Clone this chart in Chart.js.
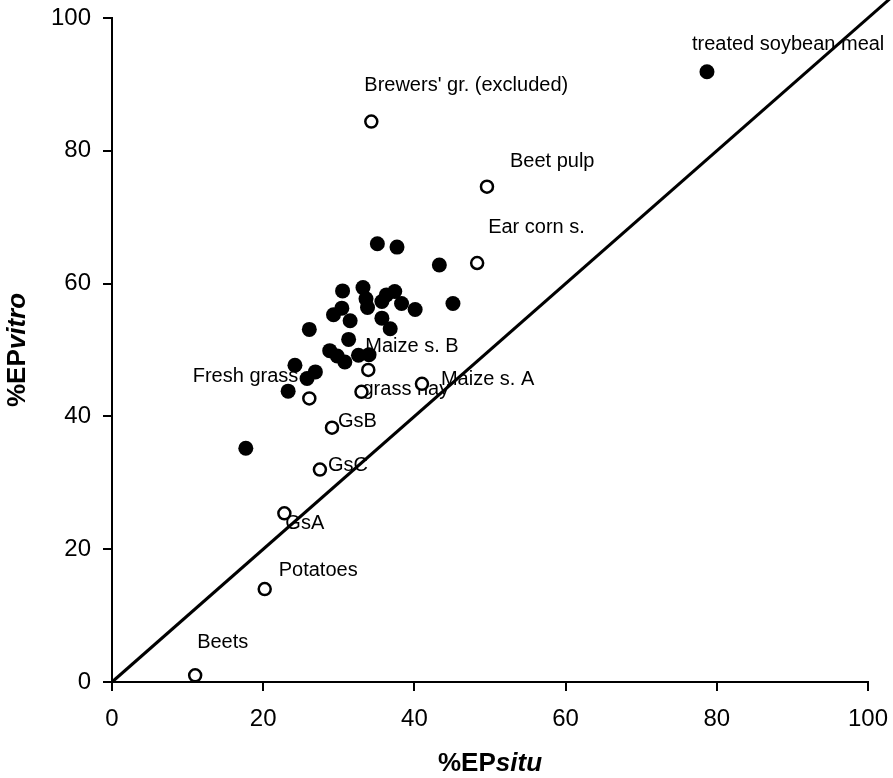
<!DOCTYPE html>
<html>
<head>
<meta charset="utf-8">
<script src="https://cdn.jsdelivr.net/npm/chart.js@4.4.1/dist/chart.umd.min.js"></script>
<style>
  html, body { margin: 0; padding: 0; background: #fff; }
  #wrap { width: 893px; height: 778px; position: relative; }
</style>
</head>
<body>
<div id="wrap"><canvas id="epChart"></canvas></div>
<script>
// filled circles (unlabelled feeds + treated soybean meal)
const filledX = [78.7, 35.1, 37.7, 43.3, 45.1, 30.5, 33.2, 33.6, 33.8, 36.3, 37.4, 38.3, 35.7,
  40.1, 30.4, 29.3, 31.5, 35.7, 36.8, 26.1, 31.3, 28.8, 29.8, 30.8, 32.6, 34.0,
  24.2, 26.9, 25.8, 23.3, 17.7];
const filledY = [91.9, 66.0, 65.5, 62.8, 57.0, 58.9, 59.4, 57.7, 56.4, 58.3, 58.8, 57.0, 57.3,
  56.1, 56.3, 55.3, 54.4, 54.8, 53.2, 53.1, 51.6, 49.9, 49.1, 48.2, 49.2, 49.3,
  47.7, 46.7, 45.7, 43.8, 35.2];

// open circles, one name each
const openNames = ["Brewers' gr. (excluded)", "Beet pulp", "Ear corn s.", "Maize s. B", "Maize s. A",
  "grass hay", "Fresh grass", "GsB", "GsC", "GsA", "Potatoes", "Beets"];
const openX = [34.3, 49.6, 48.3, 33.9, 41.0, 33.0, 26.1, 29.1, 27.5, 22.8, 20.2, 11.0];
const openY = [84.4, 74.6, 63.1, 47.0, 44.9, 43.7, 42.7, 38.3, 32.0, 25.4, 14.0, 1.0];

// 1:1 line
const lineX = [0, 103.5];
const lineY = [0, 103.5];

const xTicks = [0, 20, 40, 60, 80, 100];
const yTicks = [0, 20, 40, 60, 80, 100];

// label placement, pixel offsets from the point (text left / middle)
const labelOffsets = {
  "Brewers' gr. (excluded)": [-7, -36, "left"],
  "Beet pulp": [23, -25, "left"],
  "Ear corn s.": [11, -36, "left"],
  "Maize s. B": [-3, -23, "left"],
  "Maize s. A": [19, -4, "left"],
  "grass hay": [1, -2, "left"],
  "Fresh grass": [-11, -22, "right"],
  "GsB": [6, -6, "left"],
  "GsC": [8, -4, "left"],
  "GsA": [1, 10, "left"],
  "Potatoes": [14, -19, "left"],
  "Beets": [2, -33, "left"]
};
const soyLabel = { text: "treated soybean meal", idx: 0, dx: -15, dy: -27 };

const FONT = "'Liberation Sans', Arial, sans-serif";

const pointLabels = {
  id: "pointLabels",
  beforeDatasetsDraw(chart) {
    const { ctx, scales: { x, y } } = chart;
    ctx.save();
    ctx.fillStyle = "#000";
    ctx.font = "20px " + FONT;
    ctx.textBaseline = "middle";
    openNames.forEach((name, i) => {
      const o = labelOffsets[name];
      if (!o) return;
      ctx.textAlign = o[2];
      ctx.fillText(name, x.getPixelForValue(openX[i]) + o[0], y.getPixelForValue(openY[i]) + o[1]);
    });
    ctx.textAlign = "left";
    ctx.fillText(soyLabel.text,
      x.getPixelForValue(filledX[soyLabel.idx]) + soyLabel.dx,
      y.getPixelForValue(filledY[soyLabel.idx]) + soyLabel.dy);
    ctx.restore();
  }
};

// axis titles with the italic part
function drawMixed(ctx, parts) {
  const widths = parts.map(p => { ctx.font = p.font; return ctx.measureText(p.t).width; });
  const total = widths.reduce((a, b) => a + b, 0);
  let cx = -total / 2;
  parts.forEach((p, i) => {
    ctx.font = p.font;
    ctx.fillText(p.t, cx, 0);
    cx += widths[i];
  });
}

const axisTitles = {
  id: "axisTitles",
  afterDraw(chart) {
    const { ctx, chartArea } = chart;
    ctx.save();
    ctx.fillStyle = "#000";
    ctx.textAlign = "left";
    ctx.textBaseline = "middle";
    const bold = "bold 26px " + FONT;
    const boldIt = "italic bold 26px " + FONT;

    ctx.save();
    ctx.translate((chartArea.left + chartArea.right) / 2, 764);
    drawMixed(ctx, [{ t: "%EP", font: bold }, { t: "situ", font: boldIt }]);
    ctx.restore();

    ctx.save();
    ctx.translate(18, (chartArea.top + chartArea.bottom) / 2);
    ctx.rotate(-Math.PI / 2);
    drawMixed(ctx, [{ t: "%EP", font: bold }, { t: "vitro", font: boldIt }]);
    ctx.restore();

    ctx.restore();
  }
};

function axisOpts(ticks, isX) {
  return {
    type: "linear",
    min: 0,
    max: 100,
    afterBuildTicks: s => { s.ticks = ticks.map(v => ({ value: v })); },
    afterFit: s => {
      if (isX) s.height = 96;
      else s.width = 112;
      // let layout.padding alone decide the plot box
      s.paddingTop = 0;
      s.paddingBottom = 0;
      s.paddingLeft = 0;
      s.paddingRight = 0;
    },
    grid: {
      display: true,
      drawOnChartArea: false,
      drawTicks: true,
      tickLength: 9,
      color: "#000",
      lineWidth: 2
    },
    border: { display: true, color: "#000", width: 2 },
    ticks: {
      color: "#000",
      font: { family: FONT, size: 24 },
      padding: isX ? 14 : 12,
      maxRotation: 0,
      autoSkip: false
    },
    title: { display: false }
  };
}

new Chart(document.getElementById("epChart").getContext("2d"), {
  type: "scatter",
  data: {
    datasets: [
      {
        label: "filled",
        data: filledX.map((v, i) => ({ x: v, y: filledY[i] })),
        pointRadius: 7.5,
        pointBackgroundColor: "#000",
        pointBorderColor: "#000",
        pointBorderWidth: 0
      },
      {
        label: "open",
        data: openX.map((v, i) => ({ x: v, y: openY[i] })),
        pointRadius: 6,
        pointBackgroundColor: "#fff",
        pointBorderColor: "#000",
        pointBorderWidth: 2.5
      },
      {
        label: "1:1",
        type: "line",
        data: lineX.map((v, i) => ({ x: v, y: lineY[i] })),
        borderColor: "#000",
        borderWidth: 3,
        pointRadius: 0,
        fill: false,
        clip: false
      }
    ]
  },
  options: {
    responsive: true,
    maintainAspectRatio: false,
    animation: false,
    devicePixelRatio: 1,
    layout: { padding: { left: 0, top: 18, right: 25, bottom: 0 } },
    plugins: {
      legend: { display: false },
      tooltip: { enabled: false }
    },
    scales: {
      x: axisOpts(xTicks, true),
      y: axisOpts(yTicks, false)
    }
  },
  plugins: [pointLabels, axisTitles]
});
</script>
</body>
</html>
